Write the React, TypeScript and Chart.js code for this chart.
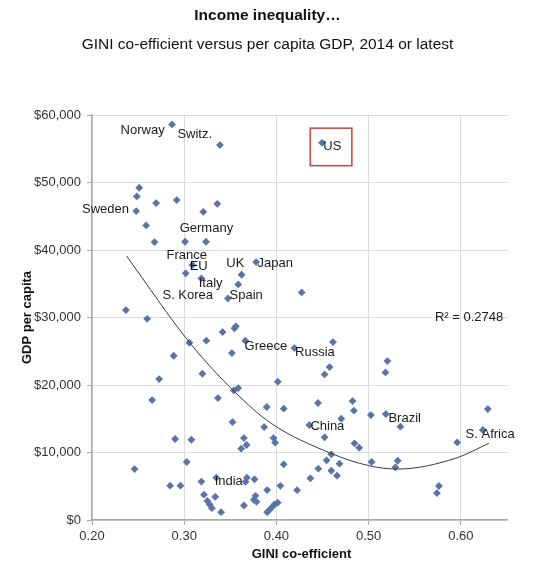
import React, { useEffect, useRef } from "react";
import { Chart, registerables } from "chart.js";

Chart.register(...registerables);

const FONT = '"Liberation Sans", Arial, Helvetica, sans-serif';

const TITLE = "Income inequality…";
const SUBTITLE = "GINI co-efficient versus per capita GDP, 2014 or latest";
const X_TITLE = "GINI co-efficient";
const Y_TITLE = "GDP per capita";
const R2_TEXT = "R² = 0.2748";

const X_TICKS = [0.2, 0.3, 0.4, 0.5, 0.6];

// GINI coefficient of each country
const gini = [
  0.2868, 0.3387, 0.4494, 0.2512, 0.2486, 0.2479, 0.2695, 0.2919, 0.3207, 0.3359,
  0.2587, 0.2678, 0.3009, 0.3236, 0.3089, 0.3016, 0.3186, 0.3622, 0.378, 0.3586,
  0.3474, 0.4274, 0.2368, 0.2598, 0.3545, 0.356, 0.3416, 0.324, 0.3056, 0.3662,
  0.2886, 0.3517, 0.2728, 0.3197, 0.4015, 0.2652, 0.3366, 0.3586, 0.3538, 0.3895,
  0.3524, 0.3867, 0.2901, 0.3078, 0.3647, 0.3676, 0.3618, 0.3968, 0.3986, 0.2462,
  0.3027, 0.2847, 0.2959, 0.3186, 0.3348, 0.3679, 0.3762, 0.3665, 0.3899, 0.4043,
  0.4224, 0.3214, 0.3337, 0.3251, 0.3276, 0.33, 0.34, 0.3647, 0.3773, 0.3755,
  0.3784, 0.3899, 0.3924, 0.3953, 0.398, 0.4014, 0.4613, 0.4195, 0.4576, 0.4522,
  0.5203, 0.5182, 0.4451, 0.4079, 0.4825, 0.484, 0.4703, 0.5024, 0.5186, 0.5344,
  0.4357, 0.4522, 0.4846, 0.4897, 0.4595, 0.4544, 0.4684, 0.4079, 0.4454, 0.4595,
  0.4656, 0.4368, 0.5032, 0.5315, 0.529, 0.596, 0.6238, 0.6292, 0.5762, 0.574,
];

// GDP per capita (US$) of each country, same order
const gdp = [
  58600, 55540, 55880, 49220, 47940, 45760, 46950, 47390, 45660, 46840,
  43640, 41170, 41220, 41220, 37770, 36540, 35790, 36330, 38210, 34900,
  32830, 33720, 31100, 29800, 28400, 28700, 27840, 26560, 26260, 26560,
  24330, 24730, 20880, 21670, 20480, 17770, 18070, 19550, 19200, 16740,
  14510, 13770, 12000, 11890, 12140, 11110, 10560, 12140, 11450, 7550,
  8590, 5080, 5080, 5700, 6270, 6270, 6030, 5650, 4440, 5060,
  4420, 3750, 3440, 2820, 2300, 1750, 1160, 2150, 3580, 3000,
  2700, 1160, 1500, 1920, 2320, 2560, 26360, 25470, 22660, 21570,
  23550, 21870, 17330, 16490, 17620, 16190, 15000, 15550, 15700, 13820,
  14070, 12250, 11360, 10710, 9730, 8840, 8340, 8250, 7600, 7300,
  6560, 6180, 8590, 8780, 7800, 11500, 13330, 16440, 5040, 3990,
];

// Polynomial trend line
const trendGini = [0.2375, 0.306, 0.3546, 0.3943, 0.4591, 0.5005, 0.5311, 0.5943, 0.6303];
const trendGdp = [39100, 26260, 19000, 14320, 9880, 8040, 7550, 9140, 11360];

// Country labels: text, left edge (gini), vertical centre (gdp)
const labelText = ["Norway", "Switz.", "Sweden", "Germany", "France", "EU", "UK", "Japan", "Italy", "S. Korea", "Spain", "US", "Greece", "Russia", "Brazil", "China", "S. Africa", "India"];
const labelGini = [0.231, 0.2926, 0.1892, 0.2951, 0.2808, 0.3059, 0.3456, 0.3795, 0.3157, 0.2764, 0.3492, 0.4508, 0.3654, 0.4202, 0.5214, 0.4368, 0.6051, 0.333];
const labelGdp = [57780, 57190, 46070, 43160, 39260, 37530, 38030, 38080, 35110, 33230, 33230, 55310, 25780, 24840, 15070, 13930, 12700, 5670];
const R2_POS = [0.5719, 30030];

const textPlugin = {
  id: "texts",
  afterDatasetsDraw(chart: any) {
    const { ctx, scales, chartArea } = chart;
    const xs = scales.x;
    const ys = scales.y;
    ctx.save();
    ctx.textBaseline = "middle";

    // titles
    ctx.fillStyle = "#111";
    ctx.textAlign = "center";
    ctx.font = `bold 15.5px ${FONT}`;
    ctx.fillText(TITLE, 267.5, 16);
    ctx.font = `15.5px ${FONT}`;
    ctx.fillText(SUBTITLE, 267.5, 45);

    // axis titles
    ctx.font = `bold 13px ${FONT}`;
    ctx.fillText(X_TITLE, (chartArea.left + chartArea.right) / 2 + 2, 554);
    ctx.save();
    ctx.translate(27, (chartArea.top + chartArea.bottom) / 2);
    ctx.rotate(-Math.PI / 2);
    ctx.fillText(Y_TITLE, 0, 0);
    ctx.restore();

    // country labels
    ctx.textAlign = "left";
    ctx.font = `13px ${FONT}`;
    ctx.fillStyle = "#1a1a1a";
    labelText.forEach((t, i) => {
      const px = xs.getPixelForValue(labelGini[i]);
      const py = ys.getPixelForValue(labelGdp[i]);
      ctx.fillText(t, px, py);
      if (t === "US") {
        const w = ctx.measureText(t).width;
        ctx.strokeStyle = "#c0504d";
        ctx.lineWidth = 1.6;
        ctx.strokeRect(px - 13, py - 18.5, w + 13 + 10.5, 37.5);
      }
    });

    // R squared
    ctx.fillText(R2_TEXT, xs.getPixelForValue(R2_POS[0]), ys.getPixelForValue(R2_POS[1]));
    ctx.restore();
  },
};

export default function App() {
  const ref = useRef<HTMLCanvasElement | null>(null);

  useEffect(() => {
    if (!ref.current) return;
    const points = gini.map((g, i) => ({ x: g, y: gdp[i] }));
    const trend = trendGini.map((g, i) => ({ x: g, y: trendGdp[i] }));

    const chart = new Chart(ref.current, {
      type: "scatter",
      data: {
        datasets: [
          {
            label: "Countries",
            data: points,
            pointStyle: "rectRot",
            pointRadius: 3.9,
            pointBackgroundColor: "#5a73a8",
            pointBorderWidth: 0,
            order: 1,
          },
          {
            label: "Trend",
            type: "line",
            data: trend,
            borderColor: "#3a3a3a",
            borderWidth: 1,
            pointRadius: 0,
            cubicInterpolationMode: "monotone",
            fill: false,
            order: 0,
          } as any,
        ],
      },
      options: {
        animation: false,
        responsive: true,
        maintainAspectRatio: false,
        layout: { padding: { left: 0, right: 39, top: 115, bottom: 0 } },
        plugins: {
          legend: { display: false },
          tooltip: { enabled: false },
          title: { display: false },
        },
        scales: {
          x: {
            type: "linear",
            min: 0.2,
            max: 0.65,
            afterBuildTicks: (s: any) => {
              s.ticks = X_TICKS.map((v) => ({ value: v }));
            },
            afterFit: (s: any) => {
              s.height = 51;
            },
            grid: { color: "#dcdcdc", tickLength: 5, tickColor: "#a8a8a8", lineWidth: 1 },
            border: { color: "#a8a8a8", width: 1.5 },
            ticks: {
              font: { family: FONT, size: 13 },
              color: "#333",
              padding: 4,
              callback: (v: any) => Number(v).toFixed(2),
            },
          },
          y: {
            type: "linear",
            min: 0,
            max: 60000,
            afterFit: (s: any) => {
              s.width = 92;
            },
            grid: { color: "#dcdcdc", tickLength: 5, tickColor: "#a8a8a8", lineWidth: 1 },
            border: { color: "#a8a8a8", width: 1.5 },
            ticks: {
              stepSize: 10000,
              font: { family: FONT, size: 13 },
              color: "#333",
              padding: 6,
              callback: (v: any) => "$" + Number(v).toLocaleString("en-US"),
            },
          },
        },
      },
      plugins: [textPlugin],
    });
    return () => chart.destroy();
  }, []);

  return (
    <div style={{ position: "absolute", left: 0, top: 0, width: 546, height: 571, background: "#fff" }}>
      <canvas ref={ref} />
    </div>
  );
}
